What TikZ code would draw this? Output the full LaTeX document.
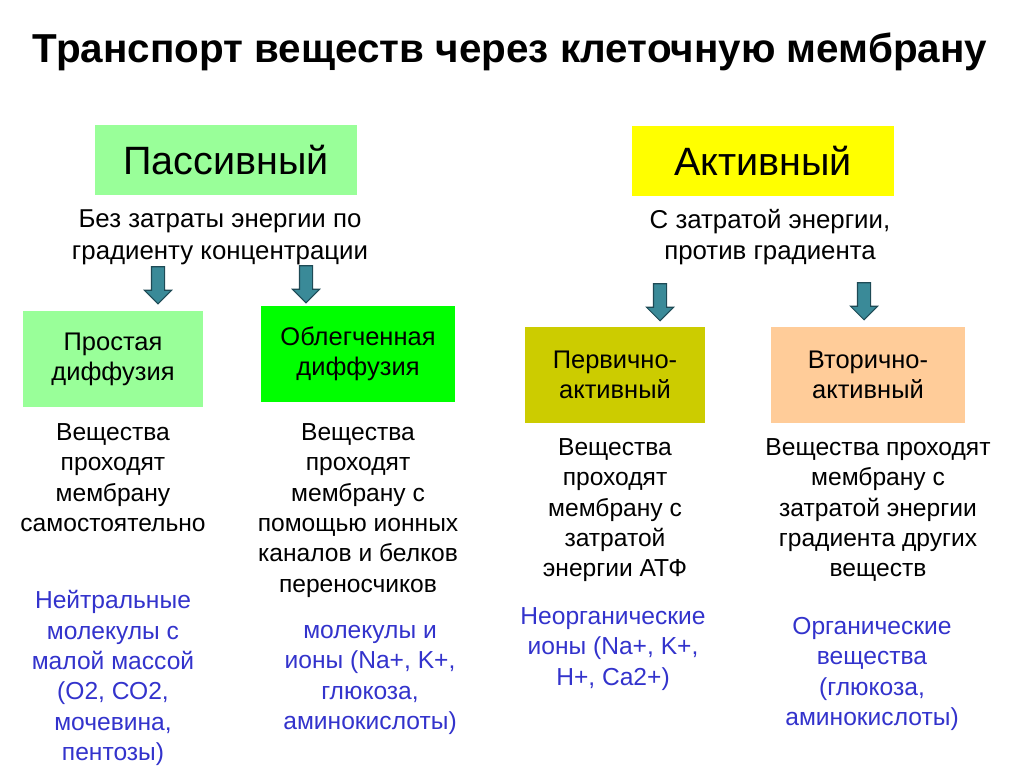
\documentclass[tikz,border=0pt]{standalone}
\usepackage{fontspec}
\setmainfont{Liberation Sans}
\usetikzlibrary{shapes.arrows}
\definecolor{lightgreen}{HTML}{99FF99}
\definecolor{brightgreen}{HTML}{00FF00}
\definecolor{brightyellow}{HTML}{FFFF00}
\definecolor{olive}{HTML}{CCCC00}
\definecolor{peach}{HTML}{FFCC99}
\definecolor{arrowteal}{HTML}{3A8A98}
\definecolor{arrowedge}{HTML}{1E4A55}
\definecolor{textblue}{HTML}{3333CC}
\begin{document}
\begin{tikzpicture}[x=0.02cm,y=-0.02cm,
  bigbox/.style={fill=#1,minimum width=5.25cm,minimum height=1.42cm,inner sep=0pt,
    font=\fontsize{22.5}{26}\selectfont},
  smallbox/.style={fill=#1,minimum height=1.93cm,inner sep=0pt,align=center,
    font=\fontsize{14.5}{17}\selectfont},
  subtext/.style={align=center,inner sep=0pt,font=\fontsize{14.7}{18}\selectfont},
  coltext/.style={align=center,inner sep=0pt,anchor=north,font=\fontsize{14}{17.3}\selectfont},
  bluetext/.style={coltext,text=textblue},
  downarr/.style={single arrow,shape border rotate=270,draw=arrowedge,fill=arrowteal,
    minimum height=0.74cm,single arrow head extend=0.14cm,
    single arrow head indent=0pt,inner sep=0.12cm,line width=0.6pt}]
\useasboundingbox (0,0) rectangle (1024,767);
\node[font=\fontsize{23}{27}\selectfont\bfseries] (title) at (510,52) {Транспорт веществ через клеточную мембрану};

\node[bigbox=lightgreen] (passive) at (226,160) {Пассивный};
\node[bigbox=brightyellow] (active) at (763,161) {Активный};
\node[subtext] (passdesc) at (220,237) {Без затраты энергии по\\градиенту концентрации};
\node[subtext] (actdesc) at (770,237) {С затратой энергии,\\против градиента};

\node[downarr] (arr1) at (158,282) {};
\node[downarr] (arr2) at (306,281) {};
\node[downarr] (arr3) at (660,299) {};
\node[downarr] (arr4) at (864,298) {};

\node[smallbox=lightgreen,minimum width=3.62cm] (simple) at (113,359) {Простая\\диффузия};
\node[smallbox=brightgreen,minimum width=3.88cm] (facil) at (358,354) {Облегченная\\диффузия};
\node[smallbox=olive,minimum width=3.62cm] (primary) at (615,375) {Первично-\\активный};
\node[smallbox=peach,minimum width=3.9cm] (secondary) at (868,375) {Вторично-\\активный};

\node[coltext] (simpletxt) at (113,423) {Вещества\\проходят\\мембрану\\самостоятельно};
\node[coltext] (faciltxt) at (358,423) {Вещества\\проходят\\мембрану с\\помощью ионных\\каналов и белков\\переносчиков};
\node[coltext] (primarytxt) at (615,438) {Вещества\\проходят\\мембрану с\\затратой\\энергии АТФ};
\node[coltext] (secondarytxt) at (878,438) {Вещества проходят\\мембрану с\\затратой энергии\\градиента других\\веществ};

\node[bluetext] (simpleex) at (113,590) {Нейтральные\\молекулы с\\малой массой\\(О2, СО2,\\мочевина,\\пентозы)};
\node[bluetext] (facilex) at (370,625) {молекулы и\\ионы (Na+, K+,\\глюкоза,\\аминокислоты)};
\node[bluetext] (primaryex) at (613,607) {Неорганические\\ионы (Na+, K+,\\H+, Ca2+)};
\node[bluetext] (secondaryex) at (872,617) {Органические\\вещества\\(глюкоза,\\аминокислоты)};
\end{tikzpicture}
\end{document}
